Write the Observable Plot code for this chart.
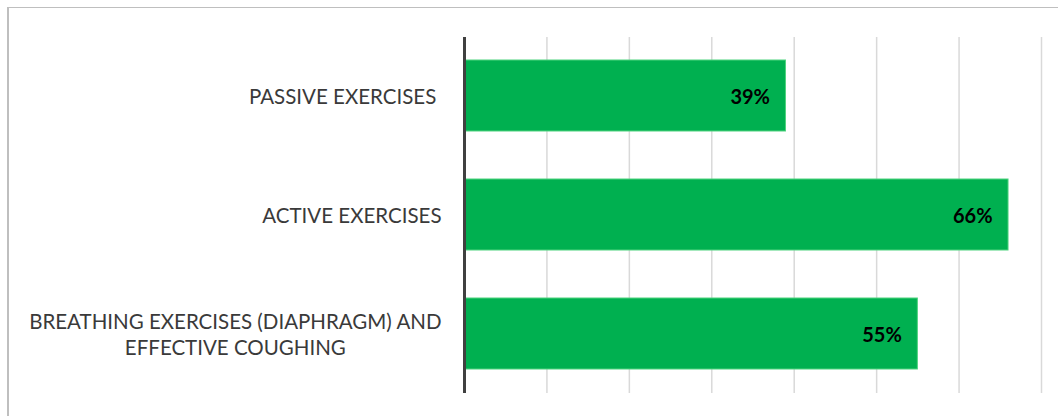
<!DOCTYPE html>
<html><head><meta charset="utf-8">
<script src="https://cdn.jsdelivr.net/npm/d3@7"></script>
<script src="https://cdn.jsdelivr.net/npm/@observablehq/plot@0.6"></script>
<style>
html,body{margin:0;padding:0;background:#fff;overflow:hidden}
#wrap{position:relative;width:1058px;height:416px}
#border{position:absolute;left:7px;top:7px;width:1100px;height:500px;border-top:1px solid #bfbfbf;border-left:2px solid #bfbfbf;pointer-events:none}
svg text{white-space:pre}
</style></head>
<body><div id="wrap"><div id="border"></div></div>
<script>
const categories = ["PASSIVE EXERCISES ", "ACTIVE EXERCISES", "BREATHING EXERCISES (DIAPHRAGM) AND\nEFFECTIVE COUGHING"];
const values = [39, 66, 55];
const valueLabels = ["39%", "66%", "55%"];
const xTicks = [0, 10, 20, 30, 40, 50, 60, 70];

const data = categories.map((c, i) => ({cat: c, v: values[i], lab: valueLabels[i]}));

const chart = Plot.plot({
  width: 1058, height: 416,
  marginLeft: 464, marginRight: 17, marginTop: 37, marginBottom: 23,
  style: {fontFamily: "Lato, 'Open Sans', sans-serif", background: "transparent"},
  x: {domain: [0, 70], axis: null},
  y: {domain: categories, paddingInner: 0.4, paddingOuter: 0.19, axis: null},
  marks: [
    Plot.ruleX(xTicks, {stroke: "#d9d9d9", strokeWidth: 1.5}),
    Plot.barX(data, {y: "cat", x: "v", fill: "#00b050", stroke: "#4fd37f", strokeWidth: 1}),
    Plot.text(data, {y: "cat", x: "v", text: "lab", textAnchor: "end", dx: -16, dy: 1.5, fill: "#000", fontWeight: "bold", fontSize: 20}),
    Plot.ruleX([0], {stroke: "#404040", strokeWidth: 3}),
    Plot.axisY({tickSize: 0, tickPadding: 23, textAnchor: "end", fontSize: 20.5, lineHeight: 1.27, fill: "#3a3a3a", label: null, tickFormat: d => d})
  ]
});
document.getElementById("wrap").prepend(chart);
// Excel-style: multi-line labels centered relative to each other, right-aligned block
chart.querySelectorAll("g[aria-label='y-axis tick label'] text").forEach(t => {
  const ts = t.querySelectorAll("tspan");
  if (ts.length > 1) {
    const w = t.getBBox().width;
    t.setAttribute("text-anchor", "middle");
    ts.forEach(s => s.setAttribute("x", -w / 2));
  }
});
</script></body></html>
